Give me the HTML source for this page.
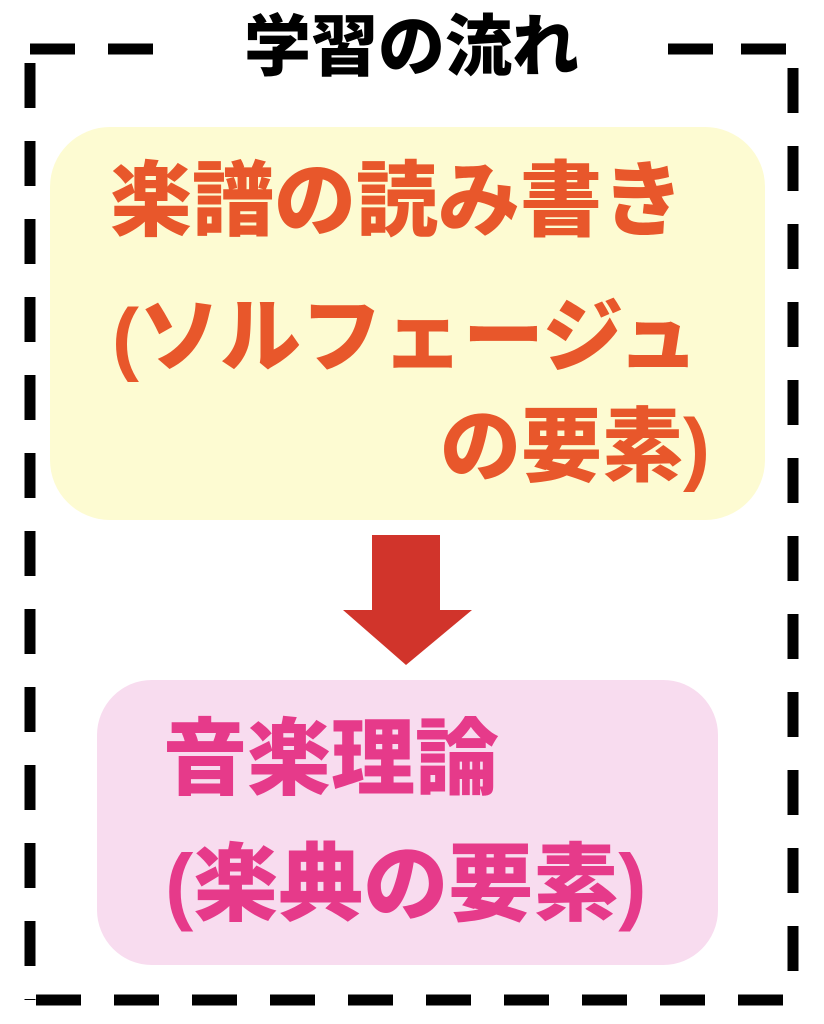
<!DOCTYPE html>
<html><head><meta charset="utf-8"><style>
html,body{margin:0;padding:0;background:#fff;width:824px;height:1024px;overflow:hidden;position:relative}
.t{position:absolute;font-family:"Liberation Sans","Noto Sans CJK JP",sans-serif;font-weight:900;white-space:nowrap;line-height:1}
</style></head><body>
<svg width="824" height="1024" style="position:absolute;left:0;top:0">
<g stroke="#000" stroke-width="11" fill="none">
<line x1="30" y1="49" x2="160" y2="49" stroke-dasharray="45 33"/>
<line x1="668" y1="49" x2="795" y2="49" stroke-dasharray="45 28"/>
<line x1="30" y1="63" x2="30" y2="1000" stroke-dasharray="45 33"/>
<line x1="793" y1="68" x2="793" y2="1000" stroke-dasharray="45 33"/>
<line x1="36" y1="1000" x2="795" y2="1000" stroke-dasharray="45 33"/>
</g>
<rect x="50" y="127" width="715" height="393" rx="60" fill="#fdfbd2"/>
<rect x="97" y="680" width="621" height="285" rx="55" fill="#f8dcef"/>
<polygon points="372,535 440,535 440,610 472,610 406,665 343,610 372,610" fill="#d1342b"/>
</svg>
<div class="t" style="left:244px;top:14px;font-size:67px;color:#000">学習の流れ</div>
<div class="t" style="left:110px;top:161px;font-size:82px;color:#e8572b">楽譜の読み書き</div>
<div class="t" style="left:112px;top:298px;font-size:81px;color:#e8572b">(ソルフェージュ</div>
<div class="t" style="left:440px;top:408px;font-size:81px;color:#e8572b">の要素)</div>
<div class="t" style="left:163px;top:717px;font-size:84px;color:#e63a8a">音楽理論</div>
<div class="t" style="left:165px;top:843px;font-size:85px;color:#e63a8a">(楽典の要素)</div>
</body></html>
